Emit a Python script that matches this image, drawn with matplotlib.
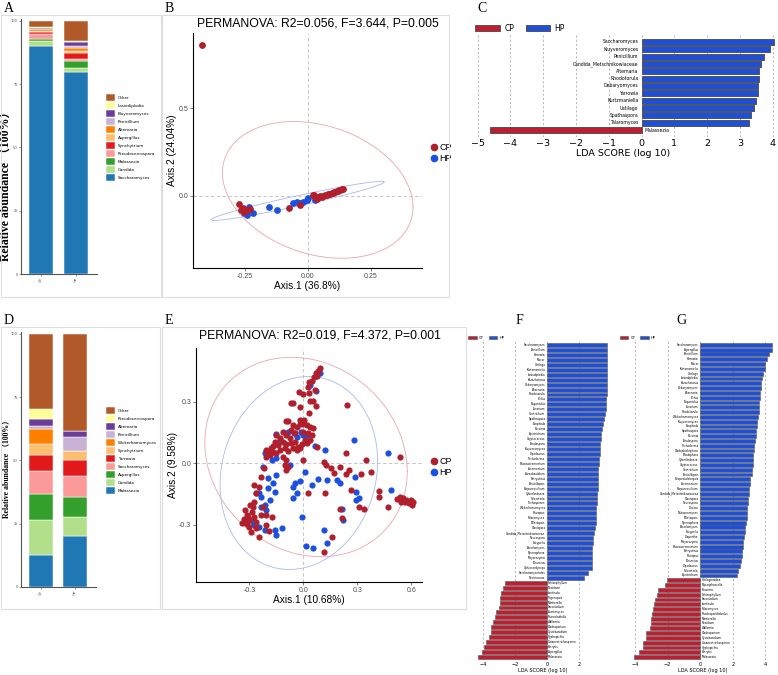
import numpy as np
import matplotlib.pyplot as plt
from matplotlib.patches import Rectangle, Patch
from matplotlib.lines import Line2D

# ---------------- data ----------------
groups = ['CP', 'HP']

# panel A: stacked relative abundance (bottom -> top)
a_genera = ['Saccharomyces', 'Candida', 'Malassezia', 'Pseudocercospora', 'Synchytrium',
            'Aspergillus', 'Alternaria', 'Penicillium', 'Kluyveromyces', 'Lasiodiplodia', 'Other']
a_cp = [90.1, 2.0, 0.8, 1.8, 0.8, 0.5, 0.6, 0.2, 0.2, 0.4, 2.6]
a_hp = [79.6, 1.8, 2.7, 0.7, 2.3, 1.1, 1.0, 1.0, 1.3, 0.5, 8.0]

# panel D
d_genera = ['Malassezia', 'Candida', 'Aspergillus', 'Saccharomyces', 'Yarrowia', 'Synchytrium',
            'Wickerhamomyces', 'Penicillium', 'Alternaria', 'Pseudocercospora', 'Other']
d_cp = [12.6, 13.9, 10.3, 9.1, 6.1, 4.5, 6.0, 1.2, 2.6, 4.1, 29.6]
d_hp = [20.2, 7.6, 7.9, 8.2, 6.3, 3.4, 0.05, 5.6, 2.2, 0.05, 38.5]

# panel B: PCoA points
b_cp_x = [-0.418, -0.271, -0.265, -0.251, -0.242, -0.229, -0.255, -0.074, -0.031, 0.025, 0.036,
          0.02, 0.03, 0.04, 0.05, 0.056, 0.06, 0.07, 0.075, 0.08, 0.085, 0.09, 0.095, 0.1, 0.105,
          0.11, 0.115, 0.12, 0.125, 0.13, 0.135, 0.14]
b_cp_y = [0.863, -0.048, -0.082, -0.092, -0.082, -0.074, -0.07, -0.073, -0.053, 0.004, -0.021,
          0.003, -0.005, -0.01, -0.004, -0.006, 0.0, 0.004, 0.006, 0.008, 0.01, 0.012, 0.015, 0.016,
          0.02, 0.022, 0.025, 0.027, 0.03, 0.034, 0.036, 0.04]
b_hp_x = [-0.251, -0.234, -0.215, -0.242, -0.155, -0.12, -0.057, -0.044, -0.017, 0.003, 0.029,
          0.047, -0.004, -0.03]
b_hp_y = [-0.101, -0.063, -0.101, -0.11, -0.067, -0.082, -0.044, -0.034, -0.034, -0.015, -0.025,
          -0.01, -0.025, -0.04]

# panel E: PCoA points
e_cp_x = [0.09, 0.079, 0.068, 0.06, 0.075, 0.047, 0.032, 0.028, 0.066, -0.023, -0.004, 0.034,
          -0.071, -0.056, -0.019, 0.038, 0.053, 0.071, 0.034, 0.244, -0.098, -0.083, -0.019, 0.004,
          -0.056, -0.038, -0.019, 0.0, 0.019, 0.038, 0.053, -0.066, -0.047, 0.0, 0.028, 0.047,
          -0.113, -0.094, -0.075, -0.15, -0.131, -0.113, -0.094, -0.066, -0.047, -0.028, -0.009,
          0.019, 0.038, 0.009, -0.159, -0.141, -0.169, -0.178, -0.197, -0.188, -0.169, -0.15,
          -0.128, -0.103, -0.084, -0.056, -0.038, -0.019, -0.113, -0.094, -0.103, -0.084, -0.094,
          0.0, 0.075,
          -0.206, -0.21, -0.221, -0.235, -0.244, -0.263, -0.272, -0.281, -0.285, -0.31, -0.3,
          -0.323, -0.328, -0.315, -0.3, -0.291, -0.263, -0.244, -0.272, -0.235, -0.328, -0.343,
          -0.313, -0.296, -0.272, -0.225, -0.206, -0.193, -0.21, -0.173, -0.263,
          0.235, 0.154, 0.206, 0.253, 0.235, 0.319, 0.347, 0.375, 0.113, 0.124, 0.169, 0.263,
          0.31, 0.338, 0.422, 0.422, 0.469, 0.535, 0.028, 0.122, 0.206, 0.216, 0.159, 0.113,
          0.535, 0.544, 0.563, 0.582, 0.597, 0.61, 0.604, 0.572, 0.553, 0.52, 0.545, 0.59]
e_cp_y = [0.467, 0.452, 0.439, 0.423, 0.426, 0.403, 0.398, 0.374, 0.358, 0.35, 0.338, 0.345,
          0.296, 0.293, 0.276, 0.306, 0.304, 0.28, 0.247, 0.285, 0.208, 0.208, 0.211, 0.211,
          0.187, 0.179, 0.192, 0.192, 0.187, 0.179, 0.171, 0.163, 0.15, 0.154, 0.146, 0.138,
          0.154, 0.138, 0.122, 0.138, 0.122, 0.106, 0.094, 0.098, 0.106, 0.081, 0.094,
          0.098, 0.114, 0.114, 0.106, 0.089, 0.085, 0.073, 0.057, 0.041, 0.057, 0.049,
          0.065, 0.073, 0.062, 0.073, 0.065, 0.073, 0.033, 0.016, -0.008, -0.016, -0.033,
          0.016, 0.081,
          0.065, 0.033, -0.024, -0.065, -0.114, -0.146, -0.187, -0.211, -0.236, -0.26, -0.276,
          -0.228, -0.273, -0.293, -0.309, -0.333, -0.317, -0.358, -0.26, -0.252, -0.285, -0.289,
          -0.252, -0.203, -0.106, -0.211, -0.252, -0.328, -0.301, -0.26, -0.285,
          0.049, -0.024, -0.016, -0.033, -0.052, -0.052, 0.016, -0.044, 0.008, -0.008, -0.049, -0.13,
          -0.211, -0.224, -0.133, -0.166, -0.215, 0.033, -0.146, -0.146, -0.22, -0.268, -0.358, -0.431,
          -0.163, -0.179, -0.187, -0.187, -0.179, -0.187, -0.203, -0.179, -0.171, -0.175, -0.19, -0.195]
e_hp_x = [0.09, 0.038, 0.071, -0.15, -0.131, -0.084, -0.053, -0.013, 0.0, -0.038, 0.019, 0.066,
          0.118, 0.281, 0.469, -0.188, -0.216, -0.15, -0.173, -0.075, 0.009, -0.15, -0.047, -0.019,
          -0.06, -0.034, -0.056, -0.225, -0.197, -0.169, -0.197, -0.244, -0.263, -0.235, -0.159,
          -0.216, -0.188, -0.235, -0.206, -0.281, -0.272, -0.244, -0.216, -0.159, -0.15, -0.116,
          -0.009, 0.047, 0.084, 0.131, 0.188, 0.203, 0.285, 0.295, 0.291, 0.31, 0.216, 0.221,
          0.113, 0.131, 0.056, 0.013, 0.488]
e_hp_y = [0.442, 0.382, 0.354, 0.141, 0.114, 0.154, 0.146, 0.154, 0.138, 0.13, 0.138, 0.085,
          0.065, 0.114, 0.049, 0.057, 0.049, 0.024, 0.016, -0.008, -0.041, -0.057, -0.098, -0.086,
          -0.114, -0.146, -0.171, -0.016, -0.073, -0.098, -0.122, -0.146, -0.146, -0.163, -0.138,
          -0.203, -0.179, -0.211, -0.228, -0.285, -0.301, -0.309, -0.325, -0.325, -0.35, -0.317,
          -0.26, -0.106, -0.078, -0.081, -0.081, -0.098, -0.065, -0.138, -0.179, -0.171, -0.22, -0.276,
          -0.325, -0.39, -0.411, -0.403, -0.13]

# confidence ellipses: centre and covariance (data units)
b_ell_cp = ((0.04, 0.033), [[0.143, -0.037], [-0.037, 0.153]])
b_ell_hp = ((-0.04, -0.03), [[0.118, 0.037], [0.037, 0.0125]])
e_ell_cp = ((0.015, 0.031), [[0.317, -0.04], [-0.04, 0.236]])
e_ell_hp = ((-0.025, -0.047), [[0.192, 0.025], [0.025, 0.221]])

# panel C: LEfSe
c_names = ['Saccharomyces', 'Kluyveromyces', 'Penicillium', 'Candida_Metschnikowiaceae', 'Alternaria',
           'Rhodotorula', 'Debaryomyces', 'Yarrowia', 'Kurtzmaniella', 'Ustilago', 'Spathaspora',
           'Talaromyces', 'Malassezia']
c_lda = [4.03, 3.92, 3.72, 3.65, 3.58, 3.57, 3.55, 3.55, 3.49, 3.42, 3.35, 3.28, -4.62]

# panel F: LEfSe
f_names = ['Saccharomyces', 'Penicillium', 'Yarrowia', 'Mucor', 'Ustilago', 'Kurtzmaniella',
           'Lasiodiplodia', 'Kazachstania', 'Debaryomyces', 'Alternaria', 'Rhodotorula', 'Pichia',
           'Naganishia', 'Fusarium', 'Geotrichum', 'Spathaspora', 'Exophiala', 'Puccinia',
           'Apiotrichum', 'Cryptococcus', 'Torulaspora', 'Kluyveromyces', 'Dipodascus', 'Trichoderma',
           'Phaeoacremonium', 'Acremonium', 'Aureobasidium', 'Botryotinia', 'Penicillopsis',
           'Purpureocillium', 'Cyberlindnera', 'Sclerotinia', 'Trichosporon', 'Wickerhamomyces',
           'Rhizopus', 'Talaromyces', 'Tilletiopsis', 'Clavispora', 'Candida_Metschnikowiaceae',
           'Neurospora', 'Eutypella', 'Paecilomyces', 'Pyrenophora', 'Meyerozyma', 'Pleurotus',
           'Ophiocordyceps', 'Saccharomycetales', 'Nectriaceae',
           'Schizophyllum', 'Neoidium', 'Lentinula', 'Trigonopsis', 'Mortierella', 'Sarocladium',
           'Acaromyces', 'Rhinocladiella', 'Wallemia', 'Cladosporium', 'Cystobasidium', 'Hyphopichia',
           'Cutaneotrichosporon', 'Botrytis', 'Aspergillus', 'Malassezia']
f_lda = [3.76, 3.76, 3.75, 3.75, 3.75, 3.75, 3.75, 3.75, 3.74, 3.74, 3.74, 3.73, 3.72,
         3.69, 3.65, 3.58, 3.5, 3.46, 3.4, 3.4, 3.35, 3.33, 3.31, 3.29, 3.25, 3.21, 3.19, 3.19,
         3.17, 3.17, 3.15, 3.13, 3.13, 3.1, 3.1, 3.1, 3.1, 3.0, 2.92, 2.9, 2.87, 2.85, 2.85, 2.83,
         2.83, 2.81, 2.6, 2.31,
         -2.63, -2.73, -2.88, -2.94, -2.96, -3.0, -3.21, -3.27, -3.4, -3.48, -3.5, -3.63, -3.81,
         -3.96, -4.06, -4.29]

# panel G: LEfSe
g_names = ['Saccharomyces', 'Aspergillus', 'Penicillium', 'Yarrowia', 'Mucor', 'Kurtzmaniella',
           'Ustilago', 'Lasiodiplodia', 'Kazachstania', 'Debaryomyces', 'Alternaria', 'Pichia',
           'Naganishia', 'Fusarium', 'Rhodotorula', 'Wickerhamomyces', 'Kluyveromyces', 'Exophiala',
           'Spathaspora', 'Puccinia', 'Torulaspora', 'Trichoderma', 'Cladophialophora', 'Phialophora',
           'Cyberlindnera', 'Cryptococcus', 'Geotrichum', 'Penicillopsis', 'Neopestalotiopsis',
           'Acremonium', 'Purpureocillium', 'Candida_Metschnikowiaceae', 'Clavispora', 'Neurospora',
           'Diutina', 'Nakaseomyces', 'Tilletiopsis', 'Pyrenophora', 'Paecilomyces', 'Eutypella',
           'Diaporthe', 'Meyerozyma', 'Phaeoacremonium', 'Botryotinia', 'Rhizopus', 'Pleurotus',
           'Dipodascus', 'Sclerotinia', 'Apiotrichum',
           'Ustilaginoidea', 'Mycosphaerella', 'Tausonia', 'Schizophyllum', 'Sarocladium',
           'Lentinula', 'Talaromyces', 'Rhodosporidiobolus', 'Mortierella', 'Neoidium', 'Wallemia',
           'Cladosporium', 'Cystobasidium', 'Cutaneotrichosporon', 'Hyphopichia', 'Botrytis',
           'Malassezia']
g_lda = [4.42, 4.38, 4.21, 4.08, 4.0, 3.96, 3.85, 3.79, 3.75, 3.71, 3.67, 3.65, 3.63, 3.6,
         3.58, 3.54, 3.5, 3.46, 3.44, 3.4, 3.35, 3.31, 3.29, 3.25, 3.23, 3.21, 3.19, 3.15, 3.08,
         3.04, 3.0, 2.98, 2.94, 2.92, 2.9, 2.88, 2.85, 2.81, 2.77, 2.73, 2.69, 2.65, 2.62, 2.58,
         2.54, 2.5, 2.42, 2.29, 2.25,
         -2.02, -2.13, -2.58, -2.65, -2.77, -2.83, -2.92, -2.96, -3.0, -3.04, -3.08, -3.29,
         -3.33, -3.5, -3.5, -3.75, -4.06]

# ---------------- style ----------------
paired = ['#1F78B4', '#B2DF8A', '#33A02C', '#FB9A99', '#E31A1C', '#FDBF6F',
          '#FF7F00', '#CAB2D6', '#6A3D9A', '#FFFF99', '#B15928']
cp_col, hp_col = '#B11F2C', '#1C50E0'
cp_bar, hp_bar = '#BE1E30', '#1F4FD6'
gg_font = 'Liberation Sans'
serif = ['Liberation Serif', 'Noto Sans CJK SC']

W, H = 778, 675
fig = plt.figure(figsize=(W / 100, H / 100), dpi=100)
fig.patch.set_facecolor('white')


def px_axes(x0, y0, x1, y1):
    return fig.add_axes([x0 / W, 1 - y1 / H, (x1 - x0) / W, (y1 - y0) / H])


# light frames around ggplot panels
for (x0, y0, x1, y1) in [(1, 15, 161, 297), (162, 15, 449, 297), (1, 327, 160, 609), (162, 327, 466, 609)]:
    fig.add_artist(Rectangle((x0 / W, 1 - y1 / H), (x1 - x0) / W, (y1 - y0) / H,
                             transform=fig.transFigure, fill=False, ec='#dedede', lw=0.8))

for lab, x, y in [('A', 4, 9), ('B', 165, 9), ('C', 477, 8), ('D', 4, 321), ('E', 165, 321),
                  ('F', 516, 321), ('G', 676, 321)]:
    fig.text(x / W, 1 - y / H, lab, fontsize=10, family='Liberation Serif', va='center', ha='left')


def stacked(ax, genera, cp, hp, ylab_fs, ylab_x, ylab_y, leg_top):
    bottoms = np.zeros(2)
    for g, a, b, c in zip(genera, cp, hp, paired):
        ax.bar([1, 2], [a, b], bottom=bottoms, width=0.69, color=c, edgecolor='white',
               linewidth=0.35, label=g)
        bottoms += np.array([a, b])
    ax.set_xlim(0.43, 2.6)
    ax.set_ylim(0, 100.7)
    ax.set_yticks([0, 25, 50, 75, 100])
    ax.set_xticks([1, 2])
    ax.set_xticklabels(groups, rotation=60)
    ax.tick_params(labelsize=2.6, length=1.2, width=0.4, colors='#555555', pad=1)
    for s in ['top', 'right']:
        ax.spines[s].set_visible(False)
    for s in ['left', 'bottom']:
        ax.spines[s].set_color('#555555')
        ax.spines[s].set_linewidth(0.8)
    ax.set_ylabel('Relative abundance （100%）', family=serif, fontweight='bold', fontsize=ylab_fs)
    ax.yaxis.set_label_coords(ylab_x, ylab_y)
    h, l = ax.get_legend_handles_labels()
    ax.legend(h[::-1], l[::-1], loc='upper left', bbox_to_anchor=(106 / W, 1 - leg_top / H),
              bbox_transform=fig.transFigure, frameon=False, fontsize=3, handlelength=2.15,
              handleheight=2.05, labelspacing=0.33, handletextpad=0.7, borderpad=0, borderaxespad=0)


axA = px_axes(21, 19, 97, 274)
stacked(axA, a_genera, a_cp, a_hp, 8.5, -0.118, 0.355, 94.5)
axD = px_axes(21, 332, 96, 587)
stacked(axD, d_genera, d_cp, d_hp, 5.6, -0.127, 0.47, 407.5)


def ellipse(ax, spec, color):
    centre, cov = spec
    t = np.linspace(0, 2 * np.pi, 300)
    L = np.linalg.cholesky(np.array(cov))
    pts = np.array(centre)[:, None] + L @ np.vstack([np.cos(t), np.sin(t)])
    ax.plot(pts[0], pts[1], color=color, lw=0.6, zorder=1)


def pcoa(ax, cpx, cpy, hpx, hpy, ell_cp, ell_hp, xl, yl, xt, xtl, yt, ytl, xlab, ylab, size):
    ax.axvline(0, color='#bbbbbb', ls=(0, (4, 3)), lw=0.6, zorder=0)
    ax.axhline(0, color='#bbbbbb', ls=(0, (4, 3)), lw=0.6, zorder=0)
    ellipse(ax, ell_cp, '#EBA5AE')
    ellipse(ax, ell_hp, '#A9B9F2')
    ax.scatter(hpx, hpy, s=size, color=hp_col, lw=0, zorder=2)
    ax.scatter(cpx, cpy, s=size, color=cp_col, lw=0, zorder=3)
    ax.set_xlim(xl)
    ax.set_ylim(yl)
    ax.set_xticks(xt)
    ax.set_xticklabels(xtl)
    ax.set_yticks(yt)
    ax.set_yticklabels(ytl)
    ax.tick_params(labelsize=5, colors='#4d4d4d', length=2, width=0.5, pad=1.5)
    for lbl in ax.get_xticklabels() + ax.get_yticklabels():
        lbl.set_family(gg_font)
    for s in ['top', 'right']:
        ax.spines[s].set_visible(False)
    for s in ['left', 'bottom']:
        ax.spines[s].set_linewidth(0.8)
    ax.set_xlabel(xlab, family=gg_font, fontsize=7.3, labelpad=1)
    ax.set_ylabel(ylab, family=gg_font, fontsize=7.3, labelpad=1)
    handles = [Line2D([], [], marker='o', ls='', color=cp_col, markersize=4.5),
               Line2D([], [], marker='o', ls='', color=hp_col, markersize=4.5)]
    leg = ax.legend(handles, groups, loc='center left', bbox_to_anchor=(1.0, 0.49), frameon=False,
                    handlelength=0.8, handletextpad=0.2, labelspacing=0.25, fontsize=6.5)
    for t in leg.get_texts():
        t.set_family(gg_font)


axB = px_axes(193, 33, 422, 268)
pcoa(axB, b_cp_x, b_cp_y, b_hp_x, b_hp_y, b_ell_cp, b_ell_hp, (-0.455, 0.454), (-0.414, 0.931),
     [-0.25, 0, 0.25], ['-0.25', '0.00', '0.25'], [0, 0.5], ['0.0', '0.5'],
     'Axis.1 (36.8%)', 'Axis.2 (24.04%)', 24)
fig.text(318 / W, 1 - 23 / H, 'PERMANOVA: R2=0.056, F=3.644, P=0.005', family=gg_font,
         fontsize=8.8, ha='center', va='center')

axE = px_axes(196, 348, 422, 582)
pcoa(axE, e_cp_x, e_cp_y, e_hp_x, e_hp_y, e_ell_cp, e_ell_hp, (-0.597, 0.66), (-0.578, 0.562),
     [-0.3, 0, 0.3, 0.6], ['-0.3', '0.0', '0.3', '0.6'], [-0.3, 0, 0.3], ['-0.3', '0.0', '0.3'],
     'Axis.1 (10.68%)', 'Axis.2 (9.58%)', 20)
fig.text(320 / W, 1 - 336 / H, 'PERMANOVA: R2=0.019, F=4.372, P=0.001', family=gg_font,
         fontsize=8.8, ha='center', va='center')


def lefse(ax, names, vals, xlim, ylim, ticks, name_fs, tick_fs, lw, leg_fs, leg_len, leg_h,
          leg_x, leg_pad):
    n = len(names)
    ypos = np.arange(n)[::-1]
    cols = [hp_bar if v > 0 else cp_bar for v in vals]
    ax.barh(ypos, vals, height=0.8, color=cols, edgecolor='#555555', linewidth=lw, zorder=2)
    off = (xlim[1] - xlim[0]) * 0.01
    for yy, nm, v in zip(ypos, names, vals):
        if v > 0:
            ax.text(-off, yy, nm, ha='right', va='center', fontsize=name_fs, zorder=3)
        else:
            ax.text(off, yy, nm, ha='left', va='center', fontsize=name_fs, zorder=3)
    ax.set_xlim(xlim)
    ax.set_ylim(ylim)
    ax.set_xticks(ticks)
    ax.set_yticks([])
    ax.grid(axis='x', ls=(0, (3, 3)), color='#9a9a9a', lw=0.5, zorder=0)
    for s in ax.spines.values():
        s.set_visible(False)
    ax.tick_params(axis='x', length=0, labelsize=tick_fs, pad=1.5)
    ax.set_xlabel('LDA SCORE (log 10)', fontsize=tick_fs, labelpad=1)
    handles = [Patch(fc=cp_bar, ec='#555555', lw=lw), Patch(fc=hp_bar, ec='#555555', lw=lw)]
    ax.legend(handles, groups, ncol=2, loc='lower left', bbox_to_anchor=(leg_x, 1.0), frameon=False,
              fontsize=leg_fs, handlelength=leg_len, handleheight=leg_h, columnspacing=1.5,
              handletextpad=0.6, borderpad=0, borderaxespad=leg_pad)


axC = px_axes(470, 35, 776, 137)
lefse(axC, c_names, c_lda, (-5.23, 4.1), (-0.95, 12.95), range(-5, 5), 3.3, 6.8, 0.7, 5.5, 3.2, 0.7,
      0.01, 0.3)

axF = px_axes(475, 340, 610, 660)
lefse(axF, f_names, f_lda, (-4.5, 3.95), (-0.6, 64.0), [-4, -2, 0, 2], 2.0, 3.6, 0.4, 2.6, 2.3, 0.8,
      -0.05, 0.05)

axG = px_axes(630, 340, 776, 660)
lefse(axG, g_names, g_lda, (-4.3, 4.65), (-0.6, 66.0), [-4, -2, 0, 2, 4], 2.0, 3.6, 0.4, 2.6, 2.3, 0.8,
      -0.07, 0.05)

fig.savefig('out.png', dpi=100, facecolor='white')
